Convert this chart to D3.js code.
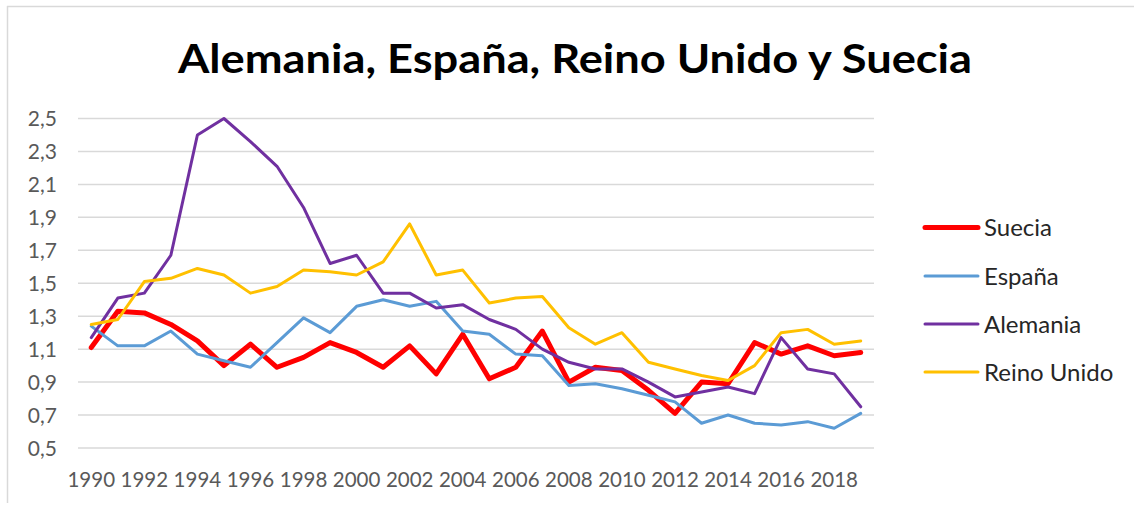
<!DOCTYPE html>
<html>
<head>
<meta charset="utf-8">
<script src="https://cdn.jsdelivr.net/npm/d3@7"></script>
<style>
  html, body { margin: 0; padding: 0; background: #fff; }
  svg { display: block; }
</style>
</head>
<body>
<svg id="chart" width="1134" height="506"></svg>
<script>
const years = d3.range(1990, 2020);
const yearLabels = years.filter(y => y % 2 === 0);
const yTicks = [0.5, 0.7, 0.9, 1.1, 1.3, 1.5, 1.7, 1.9, 2.1, 2.3, 2.5];

const suecia = [1.11, 1.33, 1.32, 1.25, 1.15, 1.00, 1.13, 0.99, 1.05, 1.14, 1.08, 0.99, 1.12, 0.95, 1.19, 0.92, 0.99, 1.21, 0.90, 0.99, 0.97, 0.85, 0.71, 0.90, 0.89, 1.14, 1.07, 1.12, 1.06, 1.08];
const espana = [1.24, 1.12, 1.12, 1.21, 1.07, 1.03, 0.99, 1.14, 1.29, 1.20, 1.36, 1.40, 1.36, 1.39, 1.21, 1.19, 1.07, 1.06, 0.88, 0.89, 0.86, 0.82, 0.78, 0.65, 0.70, 0.65, 0.64, 0.66, 0.62, 0.71];
const alemania = [1.17, 1.41, 1.44, 1.67, 2.40, 2.50, 2.36, 2.21, 1.96, 1.62, 1.67, 1.44, 1.44, 1.35, 1.37, 1.28, 1.22, 1.10, 1.02, 0.98, 0.98, 0.90, 0.81, 0.84, 0.87, 0.83, 1.17, 0.98, 0.95, 0.75];
const reinoUnido = [1.25, 1.28, 1.51, 1.53, 1.59, 1.55, 1.44, 1.48, 1.58, 1.57, 1.55, 1.63, 1.86, 1.55, 1.58, 1.38, 1.41, 1.42, 1.23, 1.13, 1.20, 1.02, 0.98, 0.94, 0.91, 1.00, 1.20, 1.22, 1.13, 1.15];

const seriesNames = ["Suecia", "España", "Alemania", "Reino Unido"];
const seriesValues = [suecia, espana, alemania, reinoUnido];
const seriesColors = ["#FF0000", "#5B9BD5", "#7030A0", "#FFC000"];
const seriesWidths = [5, 3, 3, 3];

const svg = d3.select("#chart");

// chart border (top and left only visible)
svg.append("line").attr("x1", 7).attr("x2", 1134).attr("y1", 6.5).attr("y2", 6.5)
  .attr("stroke", "#D9D9D9").attr("stroke-width", 1.5);
svg.append("line").attr("x1", 7.5).attr("x2", 7.5).attr("y1", 6).attr("y2", 503)
  .attr("stroke", "#D9D9D9").attr("stroke-width", 1.5);

// title
svg.append("text")
  .attr("x", 178).attr("y", 73)
  .attr("textLength", 794).attr("lengthAdjust", "spacingAndGlyphs")
  .style("font-family", "Lato, 'Open Sans', sans-serif")
  .style("font-weight", "bold")
  .style("font-size", "41px")
  .style("fill", "#000")
  .text("Alemania, España, Reino Unido y Suecia");

const x = d3.scaleBand().domain(years).range([78, 874]);
const y = d3.scaleLinear().domain([0.5, 2.5]).range([448, 118.5]);

// gridlines
svg.append("g").selectAll("line").data(yTicks).join("line")
  .attr("x1", 78).attr("x2", 874)
  .attr("y1", d => y(d)).attr("y2", d => y(d))
  .attr("stroke", "#D9D9D9").attr("stroke-width", 1.5);

// y labels
const fmt = d => d3.format(".1f")(d).replace(".", ",");
svg.append("g").selectAll("text").data(yTicks).join("text")
  .attr("x", 57).attr("y", d => y(d)).attr("dy", "0.36em")
  .attr("text-anchor", "end")
  .style("font-family", "Lato, 'Open Sans', sans-serif")
  .style("font-size", "21px")
  .style("fill", "#595959")
  .text(fmt);

// x labels
svg.append("g").selectAll("text").data(yearLabels).join("text")
  .attr("x", d => x(d) + x.bandwidth() / 2).attr("y", 487)
  .attr("text-anchor", "middle")
  .style("font-family", "Lato, 'Open Sans', sans-serif")
  .style("font-size", "20.5px")
  .style("fill", "#595959")
  .text(d => d);

// lines
const line = d3.line()
  .x((d, i) => x(years[i]) + x.bandwidth() / 2)
  .y(d => y(d));

seriesValues.forEach((vals, k) => {
  svg.append("path")
    .datum(vals)
    .attr("d", line)
    .attr("fill", "none")
    .attr("stroke", seriesColors[k])
    .attr("stroke-width", seriesWidths[k])
    .attr("stroke-linejoin", "round")
    .attr("stroke-linecap", "round");
});

// legend
const legY = [227.5, 276, 324, 372];
const leg = svg.append("g");
seriesNames.forEach((name, k) => {
  leg.append("line")
    .attr("x1", 925).attr("x2", 978)
    .attr("y1", legY[k]).attr("y2", legY[k])
    .attr("stroke", seriesColors[k])
    .attr("stroke-width", seriesWidths[k])
    .attr("stroke-linecap", "round");
  leg.append("text")
    .attr("x", 984).attr("y", legY[k]).attr("dy", "0.36em")
    .style("font-family", "Lato, 'Open Sans', sans-serif")
    .style("font-size", "24px")
    .style("fill", "#262626")
    .text(name);
});
</script>
</body>
</html>
